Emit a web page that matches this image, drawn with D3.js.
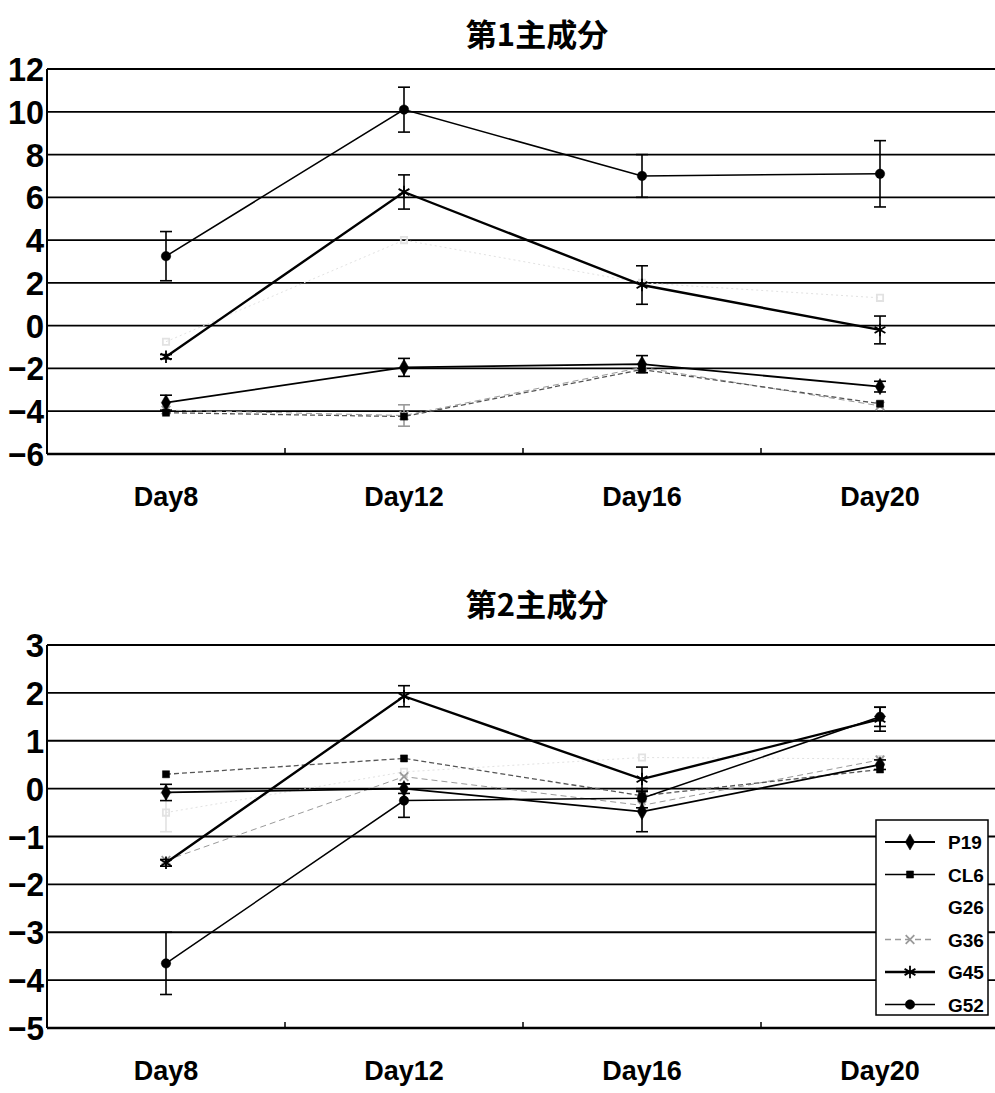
<!DOCTYPE html>
<html>
<head>
<meta charset="utf-8">
<script src="https://cdn.jsdelivr.net/npm/d3@7"></script>
<style>
  body { margin: 0; background: #fff; }
  svg { display: block; font-family: "Liberation Sans", Arial, sans-serif; }
</style>
</head>
<body>
<div id="chart"></div>
<script>
// categories and tick values
var days = ["Day8", "Day12", "Day16", "Day20"];
var seriesNames = ["P19", "CL6", "G26", "G36", "G45", "G52"];
var pc1Ticks = [-6, -4, -2, 0, 2, 4, 6, 8, 10, 12];
var pc2Ticks = [-5, -4, -3, -2, -1, 0, 1, 2, 3];

// 第1主成分 values
var pc1P19 = [-3.6, -1.95, -1.8, -2.85];
var pc1CL6 = [-4.07, -4.25, -2.05, -3.65];
var pc1G26 = [-0.75, 4.0, 2.0, 1.3];
var pc1G36 = [-3.95, -4.2, -1.95, -3.75];
var pc1G45 = [-1.45, 6.25, 1.9, -0.2];
var pc1G52 = [3.25, 10.1, 7.0, 7.1];
// 第1主成分 error bars (+/-)
var pc1P19Err = [0.35, 0.42, 0.4, 0.25];
var pc1CL6Err = [0, 0, 0, 0];
var pc1G26Err = [0, 0, 0, 0];
var pc1G36Err = [0, 0.5, 0, 0];
var pc1G45Err = [0.1, 0.8, 0.9, 0.65];
var pc1G52Err = [1.15, 1.05, 1.0, 1.55];

// 第2主成分 values
var pc2P19 = [-0.08, 0.0, -0.48, 0.5];
var pc2CL6 = [0.3, 0.63, -0.15, 0.4];
var pc2G26 = [-0.5, 0.35, 0.65, 0.62];
var pc2G36 = [-1.5, 0.25, -0.35, 0.6];
var pc2G45 = [-1.55, 1.93, 0.2, 1.45];
var pc2G52 = [-3.65, -0.25, -0.2, 1.5];
// 第2主成分 error bars (+/-)
var pc2P19Err = [0.17, 0.1, 0.42, 0.1];
var pc2CL6Err = [0, 0, 0, 0];
var pc2G26Err = [0.4, 0, 0, 0];
var pc2G36Err = [0, 0, 0, 0];
var pc2G45Err = [0.07, 0.22, 0.25, 0.25];
var pc2G52Err = [0.65, 0.35, 0.2, 0.2];

// look of each series
var styles = {
  P19: {color: "#000", width: 1.8, dash: null, symbol: d3.symbolDiamond, size: 75, fill: true},
  CL6: {color: "#555", width: 1.3, dash: "5,3", symbol: d3.symbolSquare, size: 50, fill: true, mark: "#000"},
  G26: {color: "#e2e2e2", width: 1, dash: "2,3", symbol: d3.symbolSquare, size: 40, fill: false},
  G36: {color: "#9a9a9a", width: 1, dash: "6,4", symbol: d3.symbolTimes, size: 50, fill: false},
  G45: {color: "#000", width: 2.4, dash: null, symbol: d3.symbolAsterisk, size: 110, fill: false},
  G52: {color: "#000", width: 1.5, dash: null, symbol: d3.symbolCircle, size: 70, fill: true}
};
var drawOrder = ["G26", "G36", "CL6", "P19", "G52", "G45"];

var svgWidth = 995;
var svgHeight = 1093;
var svg = d3.select("#chart").append("svg")
  .attr("width", svgWidth).attr("height", svgHeight);

function drawPanel(opt) {
  var x = d3.scalePoint().domain(days).range([47, 999]).padding(0.5);
  var y = d3.scaleLinear().domain(opt.domain).range([opt.bottom, opt.top]);
  var g = svg.append("g");

  // title
  g.append("text")
    .attr("x", 537).attr("y", opt.titleY)
    .attr("text-anchor", "middle")
    .attr("font-family", "'Noto Sans CJK JP', sans-serif")
    .attr("font-weight", "bold").attr("font-size", 31)
    .text(opt.title);

  // horizontal grid lines
  g.selectAll(".grid").data(opt.ticks).enter().append("line")
    .attr("x1", 47).attr("x2", 999)
    .attr("y1", d => y(d)).attr("y2", d => y(d))
    .attr("stroke", "#000").attr("stroke-width", 1.8);

  // left axis line
  g.append("line").attr("x1", 47).attr("x2", 47)
    .attr("y1", opt.top).attr("y2", opt.bottom)
    .attr("stroke", "#000").attr("stroke-width", 2);

  // boundary ticks on x axis
  var step = x.step();
  g.selectAll(".xt").data(days.slice(1)).enter().append("line")
    .attr("x1", d => x(d) - step / 2).attr("x2", d => x(d) - step / 2)
    .attr("y1", opt.bottom).attr("y2", opt.bottom - 6)
    .attr("stroke", "#000").attr("stroke-width", 1.5);

  // y tick labels
  g.selectAll(".yl").data(opt.ticks).enter().append("text")
    .attr("x", 44).attr("y", d => y(d) + 12)
    .attr("text-anchor", "end")
    .attr("font-weight", "bold").attr("font-size", 33)
    .attr("textLength", d => String(d).length === 1 ? null : 36)
    .attr("lengthAdjust", "spacingAndGlyphs")
    .text(d => d3.format("")(d));

  // x labels
  g.selectAll(".xl").data(days).enter().append("text")
    .attr("x", d => x(d)).attr("y", opt.bottom + 52)
    .attr("text-anchor", "middle")
    .attr("font-weight", "bold").attr("font-size", 27)
    .text(d => d);

  var line = d3.line().x((d, i) => x(days[i])).y(d => y(d));

  drawOrder.forEach(function(name) {
    var st = styles[name];
    var vals = opt.values[name];
    var errs = opt.errors[name];
    var sg = g.append("g");

    sg.append("path").datum(vals)
      .attr("d", line)
      .attr("fill", "none")
      .attr("stroke", st.color)
      .attr("stroke-width", st.width)
      .attr("stroke-dasharray", st.dash);

    // error bars
    vals.forEach(function(v, i) {
      if (!errs[i]) return;
      var cx = x(days[i]);
      var eg = sg.append("g").attr("stroke", st.color === "#555" ? "#000" : st.color)
        .attr("stroke-width", 1.6);
      eg.append("line").attr("x1", cx).attr("x2", cx)
        .attr("y1", y(v + errs[i])).attr("y2", y(v - errs[i]));
      eg.append("line").attr("x1", cx - 6).attr("x2", cx + 6)
        .attr("y1", y(v + errs[i])).attr("y2", y(v + errs[i]));
      eg.append("line").attr("x1", cx - 6).attr("x2", cx + 6)
        .attr("y1", y(v - errs[i])).attr("y2", y(v - errs[i]));
    });

    var sym = d3.symbol().type(st.symbol).size(st.size);
    var mc = st.mark || st.color;
    sg.selectAll(".m").data(vals).enter().append("path")
      .attr("transform", (d, i) => `translate(${x(days[i])},${y(d)})`)
      .attr("d", sym)
      .attr("fill", st.fill ? mc : "none")
      .attr("stroke", mc)
      .attr("stroke-width", st.fill ? 0.5 : 1.8);
  });

  // top border and bottom axis drawn last
  g.append("line").attr("x1", 47).attr("x2", 999)
    .attr("y1", opt.top).attr("y2", opt.top)
    .attr("stroke", "#000").attr("stroke-width", 2.2);
  g.append("line").attr("x1", 47).attr("x2", 999)
    .attr("y1", opt.bottom).attr("y2", opt.bottom)
    .attr("stroke", "#000").attr("stroke-width", 2.4);

  if (opt.legend) drawLegend(g);
}

function drawLegend(g) {
  var lg = g.append("g").attr("transform", "translate(876,820)");
  lg.append("rect").attr("width", 112).attr("height", 195)
    .attr("fill", "#fff").attr("stroke", "#000").attr("stroke-width", 1.5);
  seriesNames.forEach(function(name, i) {
    var st = styles[name];
    var yy = 22 + i * 32.5;
    var lineColor = name === "CL6" ? "#000" : st.color;
    if (name !== "G26") {
      lg.append("line").attr("x1", 9).attr("x2", 59)
        .attr("y1", yy).attr("y2", yy)
        .attr("stroke", lineColor).attr("stroke-width", Math.max(st.width, 1.5))
        .attr("stroke-dasharray", name === "CL6" ? null : st.dash);
      var mc = st.mark || st.color;
      lg.append("path")
        .attr("transform", `translate(34,${yy})`)
        .attr("d", d3.symbol().type(st.symbol).size(st.size)())
        .attr("fill", st.fill ? mc : "none")
        .attr("stroke", mc)
        .attr("stroke-width", st.fill ? 0.5 : 1.8);
    }
    lg.append("text")
      .attr("x", 72).attr("y", yy + 7)
      .attr("font-weight", "bold").attr("font-size", 19)
      .text(name);
  });
}

drawPanel({
  title: "第1主成分", titleY: 46,
  domain: [-6, 12], top: 69, bottom: 454, ticks: pc1Ticks,
  values: {P19: pc1P19, CL6: pc1CL6, G26: pc1G26, G36: pc1G36, G45: pc1G45, G52: pc1G52},
  errors: {P19: pc1P19Err, CL6: pc1CL6Err, G26: pc1G26Err, G36: pc1G36Err, G45: pc1G45Err, G52: pc1G52Err},
  legend: false
});

drawPanel({
  title: "第2主成分", titleY: 616,
  domain: [-5, 3], top: 645, bottom: 1028, ticks: pc2Ticks,
  values: {P19: pc2P19, CL6: pc2CL6, G26: pc2G26, G36: pc2G36, G45: pc2G45, G52: pc2G52},
  errors: {P19: pc2P19Err, CL6: pc2CL6Err, G26: pc2G26Err, G36: pc2G36Err, G45: pc2G45Err, G52: pc2G52Err},
  legend: true
});
</script>
</body>
</html>
